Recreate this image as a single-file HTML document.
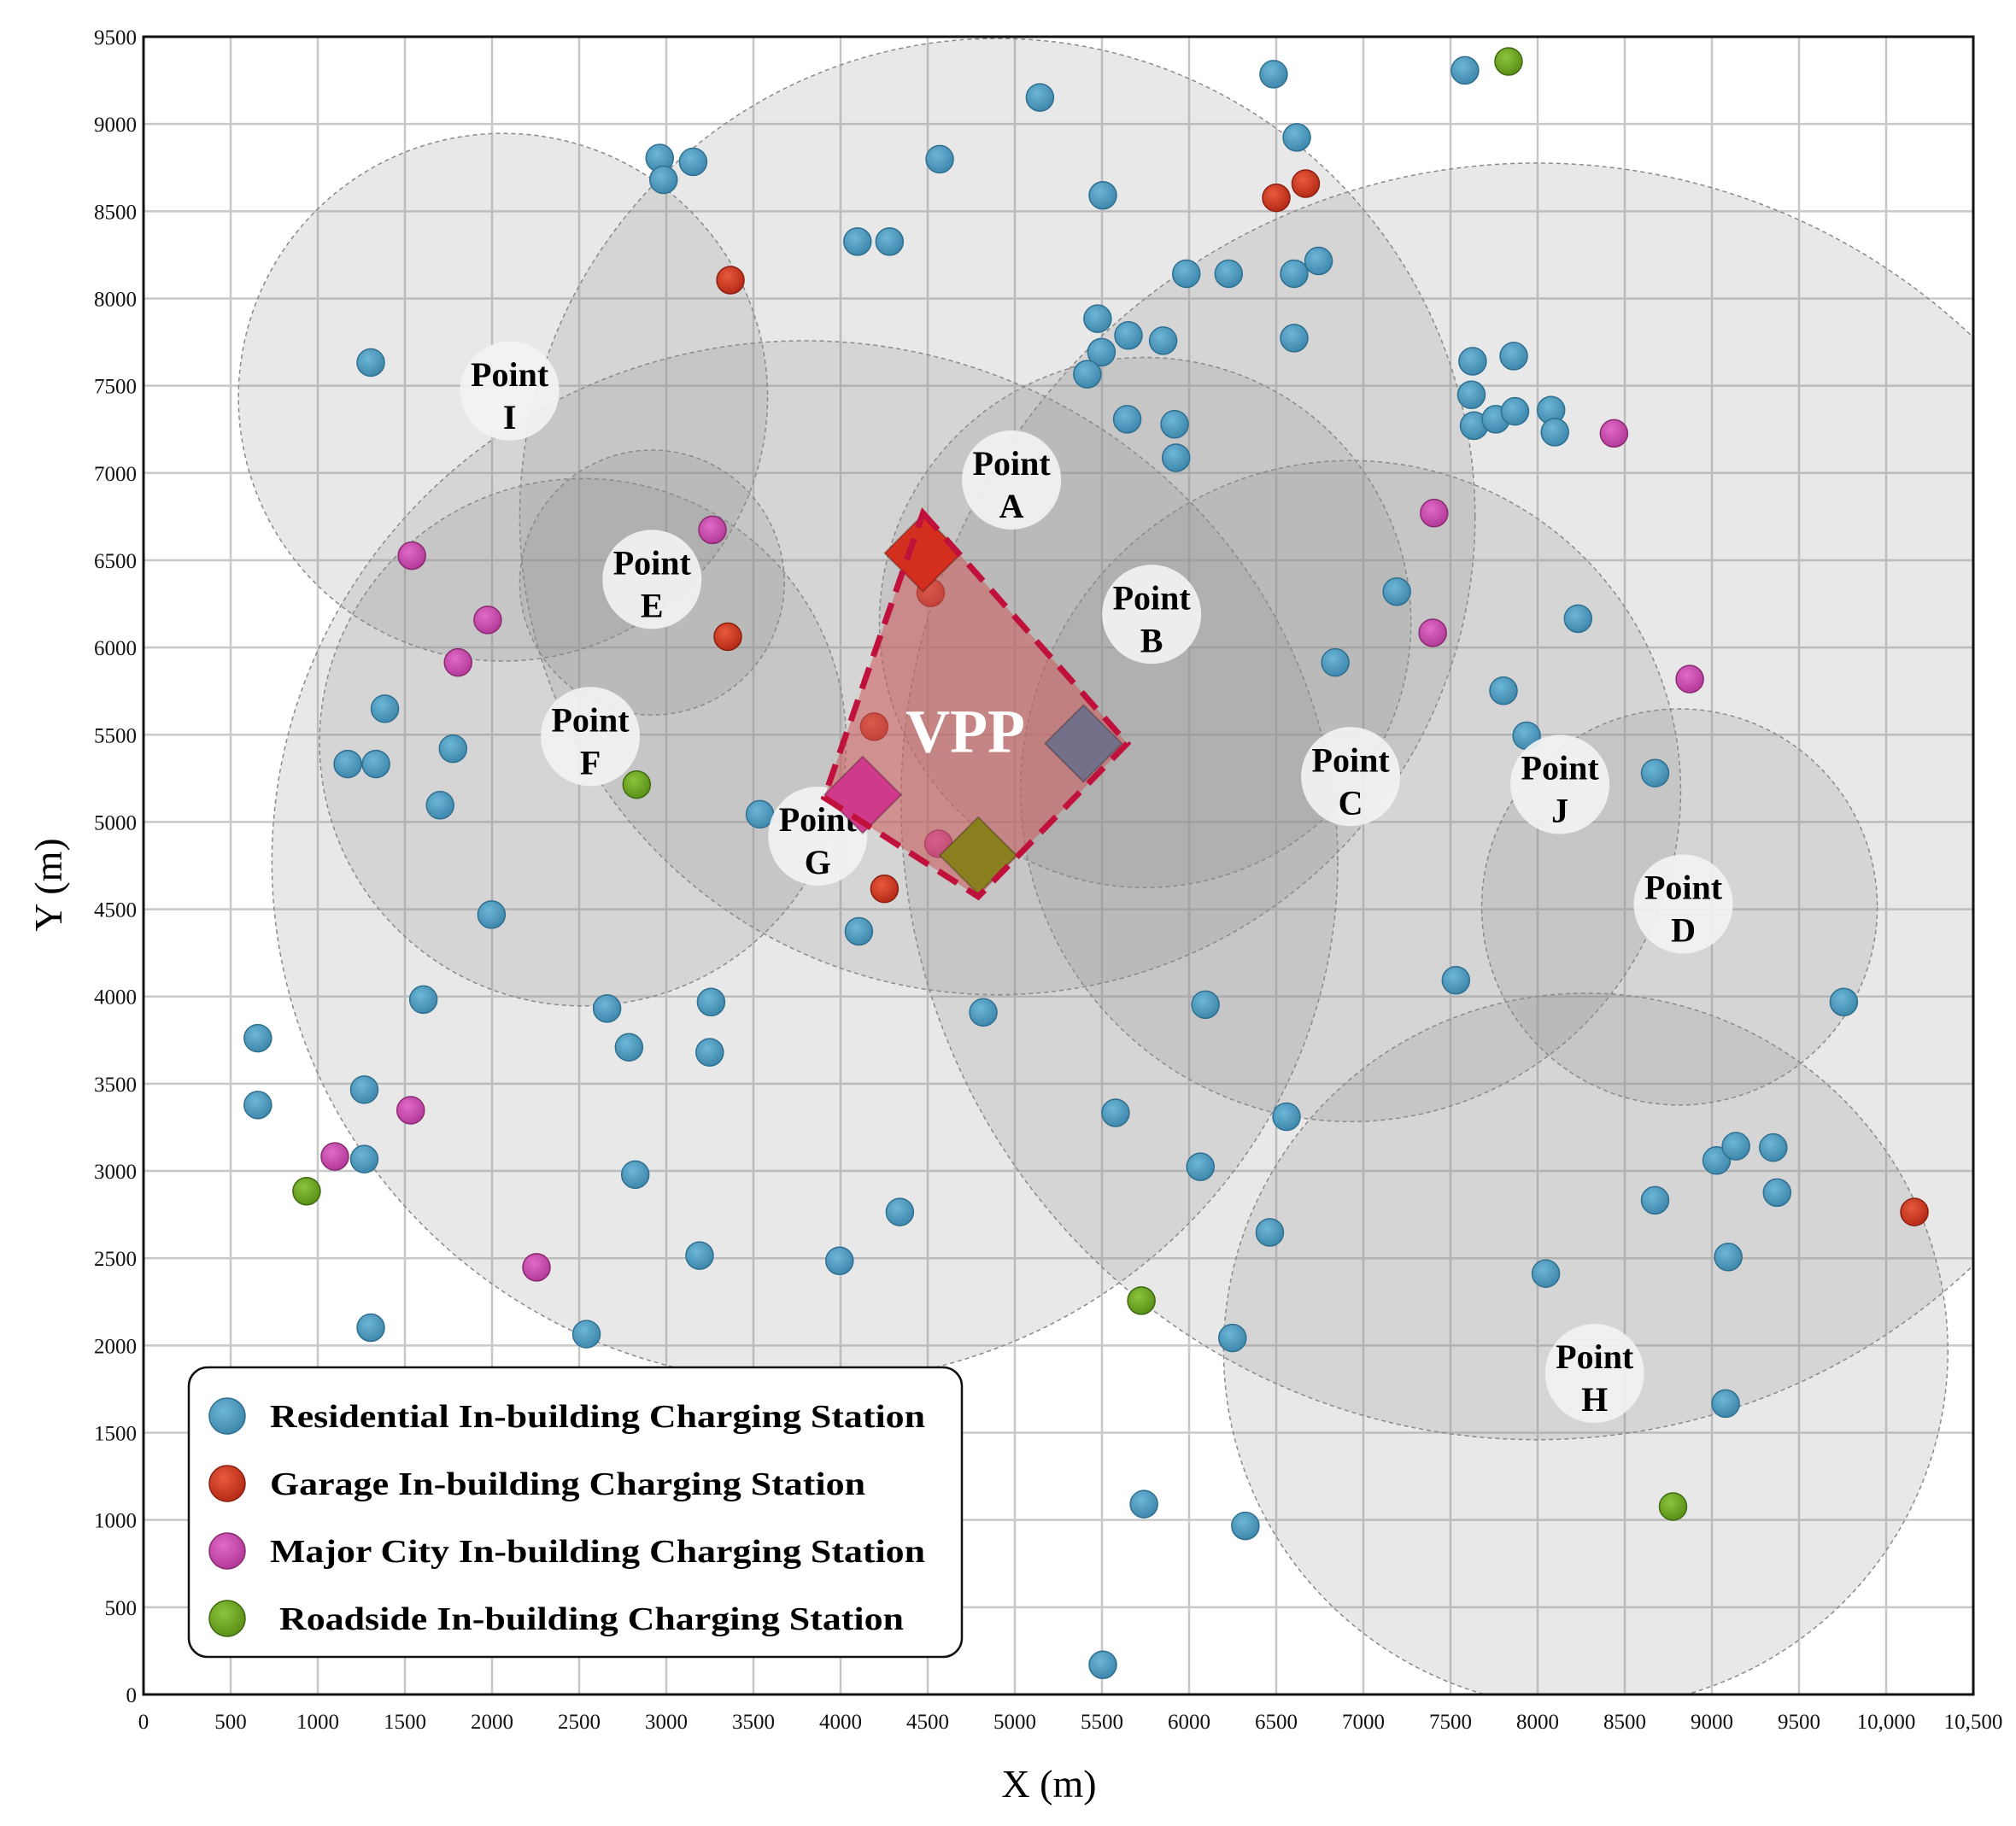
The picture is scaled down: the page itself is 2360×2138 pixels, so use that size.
<!DOCTYPE html>
<html><head><meta charset="utf-8"><style>
html,body{margin:0;padding:0;background:#fff;}
svg{display:block;font-family:"Liberation Serif",serif;}
</style></head><body>
<svg id="chart" width="2360" height="2138" viewBox="0 0 2360 2138" xmlns="http://www.w3.org/2000/svg">
<defs>
<clipPath id="plotclip"><rect x="168" y="43" width="2142" height="1941"/></clipPath>
<radialGradient id="gRes" cx="40%" cy="35%" r="65%"><stop offset="0" stop-color="#6cb6d8"/><stop offset="1" stop-color="#3f88ad"/></radialGradient>
<radialGradient id="gGar" cx="40%" cy="35%" r="65%"><stop offset="0" stop-color="#e85a3c"/><stop offset="1" stop-color="#b62a18"/></radialGradient>
<radialGradient id="gMaj" cx="40%" cy="35%" r="65%"><stop offset="0" stop-color="#e06ac8"/><stop offset="1" stop-color="#b33a98"/></radialGradient>
<radialGradient id="gRoad" cx="40%" cy="35%" r="65%"><stop offset="0" stop-color="#8cc43c"/><stop offset="1" stop-color="#5a9018"/></radialGradient>
</defs>
</svg>
<script>
// ---- data ----
const resX=[656,656,1304,1267,1267,1304,1172,1334,1385,1776,1702,1997,1606,2660,2786,2822,2542,3191,3257,3249,3537,4105,3994,4340,4819,2962,2984,3154,4097,4281,4569,5144,5505,5475,5497,5652,5416,5851,5645,5917,5925,5984,6227,6485,6618,6603,6743,6603,7583,7627,7863,7620,7635,7760,7870,8077,8099,7192,6839,8232,7804,7937,8674,7531,9757,6094,5578,6559,6065,6463,6249,8674,9027,9138,9352,9374,9094,8047,9079,5741,6323,5505];
const resY=[3761,3378,7633,3466,3068,2102,5332,5332,5649,5420,5096,4469,3982,3931,3709,2979,2065,2515,3968,3680,5044,4373,2485,2765,3909,8805,8680,8783,8326,8326,8798,9152,8591,7884,7692,7788,7566,7758,7308,7279,7087,8142,8142,9285,8923,8142,8215,7773,9307,7640,7670,7448,7271,7308,7353,7360,7234,6320,5914,6165,5752,5494,5280,4093,3968,3953,3333,3311,3024,2648,2043,2832,3060,3142,3134,2876,2507,2412,1667,1091,966,170];
const garX=[3368,3353,6500,6669,4252,4517,10162,4193];
const garY=[8105,6062,8577,8658,4617,6313,2765,5546];
const majX=[1540,1975,1805,3265,1533,1098,2255,7406,7398,8438,8873,4562];
const majY=[6526,6158,5914,6674,3348,3083,2448,6770,6084,7227,5819,4875];
const roadX=[7833,2830,936,5726,8777];
const roadY=[9358,5214,2884,2257,1077];
const zoneNames=["I","G","A","F","E","B","C","J","D","H"];
const zoneCX=[2063,3795,4900,2521,2918,5748,6927,7995,8814,8276];
const zoneCY=[7434,4771,6750,5457,6372,6143,5177,5118,4513,1969];
const zoneRX=[1518,3058,2741,1511,759,1525,1894,3648,1135,2078];
const zoneRY=[1512,2987,2740,1511,759,1519,1894,3658,1135,2050];
const labelX=[2101,3869,4981,2564,2918,5785,6927,8128,8836,8327];
const labelY=[7470,4919,6960,5490,6390,6190,5260,5215,4530,1840];
const vppX=[4473,5645,4790,3906];
const vppY=[6770,5450,4572,5140];
const vppUnitX=[4473,5394,4127,4790];
const vppUnitY=[6541,5450,5155,4808];
const vppUnitColor=["#d42e1e","#74708a","#d03a8a","#8a8020"];
const xTicks=[0,500,1000,1500,2000,2500,3000,3500,4000,4500,5000,5500,6000,6500,7000,7500,8000,8500,9000,9500,10000,10500];
const xTickLabels=["0","500","1000","1500","2000","2500","3000","3500","4000","4500","5000","5500","6000","6500","7000","7500","8000","8500","9000","9500","10,000","10,500"];
const yTicks=[0,500,1000,1500,2000,2500,3000,3500,4000,4500,5000,5500,6000,6500,7000,7500,8000,8500,9000,9500];
const legendLabels=["Residential In-building Charging Station","Garage In-building Charging Station","Major City In-building Charging Station","Roadside In-building Charging Station"];
// ---- scales ----
const L=168,R=2310,T=43,B=1984;
const sx=v=>L+v/10500*(R-L);
const sy=v=>B-v/9500*(B-T);
const kx=(R-L)/10500, ky=(B-T)/9500;
const NS="http://www.w3.org/2000/svg";
const svg=document.getElementById("chart");
function mk(tag,attrs,parent){const e=document.createElementNS(NS,tag);for(const k in attrs)e.setAttribute(k,attrs[k]);(parent||svg).appendChild(e);return e;}
// grid
const grid=mk("g",{});


xTicks.forEach((v,i)=>{
  mk("line",{x1:sx(v),x2:sx(v),y1:T,y2:B,stroke:"#c8c8c8","stroke-width":2.5},grid);
  const t=mk("text",{x:sx(v),y:B+40,"text-anchor":"middle","font-size":25,fill:"#111"});
  t.textContent=xTickLabels[i];
  
  
});
yTicks.forEach(v=>{
  mk("line",{x1:L,x2:R,y1:sy(v),y2:sy(v),stroke:"#c8c8c8","stroke-width":2.5},grid);
  const t=mk("text",{x:L-8,y:sy(v)+9,"text-anchor":"end","font-size":25,fill:"#111"});
  t.textContent=String(v);
  
  
});
// zones
const zg=mk("g",{"clip-path":"url(#plotclip)"});


zoneCX.forEach((c,i)=>{
  const e=mk("ellipse",{cx:sx(c),cy:sy(zoneCY[i]),rx:zoneRX[i]*kx,ry:zoneRY[i]*ky,fill:"rgba(140,140,140,0.2)",stroke:"#8a8a8a","stroke-width":1.5,"stroke-dasharray":"5 4"},zg);
  
  
});
// points
function series(xs,ys,grad,stroke,name){
  const g=mk("g",{});
  
  
  xs.forEach((x,i)=>{
    const c=mk("circle",{cx:sx(x),cy:sy(ys[i]),r:16,fill:grad,stroke:stroke,"stroke-width":1.5},g);
    
    
  });
}
series(resX,resY,"url(#gRes)","#2f6f8f","residential");
series(garX,garY,"url(#gGar)","#8a2010","garage");
series(majX,majY,"url(#gMaj)","#8a2a70","major-city");
series(roadX,roadY,"url(#gRoad)","#3f6a10","roadside");
// labels
zoneNames.forEach((n,i)=>{
  const g=mk("g",{});
  
  
  const x=sx(labelX[i]),y=sy(labelY[i]);
  mk("circle",{cx:x,cy:y,r:58,fill:"rgba(242,242,242,0.92)"},g);
  const t1=mk("text",{x:x,y:y-6,"text-anchor":"middle","font-size":40,"font-weight":"bold",fill:"#000"},g);t1.textContent="Point";
  const t2=mk("text",{x:x,y:y+44,"text-anchor":"middle","font-size":40,"font-weight":"bold",fill:"#000"},g);t2.textContent=n;
});
// VPP
const vg=mk("g",{});


const pts=vppX.map((x,i)=>sx(x)+","+sy(vppY[i])).join(" ");
mk("polygon",{points:pts,fill:"rgba(205,90,90,0.55)"},vg);
vppUnitX.forEach((x,i)=>{
  const cx=sx(x),cy=sy(vppUnitY[i]),h=45;
  const d=mk("polygon",{points:`${cx},${cy-h} ${cx+h},${cy} ${cx},${cy+h} ${cx-h},${cy}`,fill:vppUnitColor[i],stroke:"rgba(0,0,0,0.25)","stroke-width":2},vg);
  
  
});
mk("polygon",{points:pts,fill:"none",stroke:"#c0103c","stroke-width":7,"stroke-dasharray":"26 14"},vg);
const vt=mk("text",{x:sx(4716),y:sy(5400),"text-anchor":"middle","font-size":72,"font-weight":"bold",fill:"#fff"},vg);
vt.textContent="VPP";


// frame
const fr=mk("rect",{x:L,y:T,width:R-L,height:B-T,fill:"none",stroke:"#111","stroke-width":3});


// legend
const lg=mk("g",{});


mk("rect",{x:221,y:1601,width:905,height:339,rx:22,fill:"#fff",stroke:"#111","stroke-width":2.5},lg);
const lgrads=["url(#gRes)","url(#gGar)","url(#gMaj)","url(#gRoad)"];
const lstk=["#2f6f8f","#8a2010","#8a2a70","#3f6a10"];
const lTextX=[316,316,316,327];
const lTextW=[767,697,767,731];
legendLabels.forEach((s,i)=>{
  const y=1658+i*79;
  const e=mk("g",{},lg);
  
  
  mk("circle",{cx:266,cy:y,r:21,fill:lgrads[i],stroke:lstk[i],"stroke-width":1.5},e);
  const t=mk("text",{x:lTextX[i],y:y+13,"font-size":38,"font-weight":"bold",fill:"#000",textLength:lTextW[i],lengthAdjust:"spacingAndGlyphs"},e);
  t.textContent=s;
});
// axis titles
const xt=mk("text",{x:1228,y:2104,"text-anchor":"middle","font-size":46,fill:"#000"});
xt.textContent="X (m)";


const yt=mk("text",{x:0,y:0,"text-anchor":"middle","font-size":46,fill:"#000",transform:"translate(72,1036) rotate(-90)"});
yt.textContent="Y (m)";


</script>
</body></html>
